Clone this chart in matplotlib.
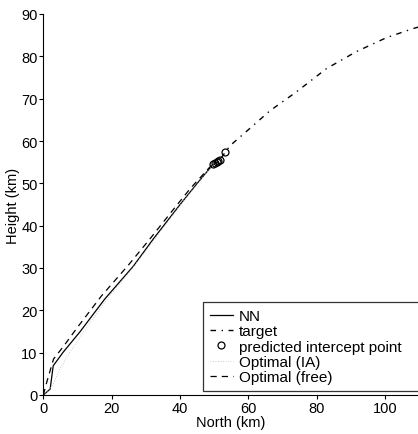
import matplotlib
matplotlib.use("Agg")
import matplotlib.pyplot as plt

plt.rcParams['font.family'] = ['Liberation Sans', 'DejaVu Sans']

# NN trajectory
nn_north = [0, 2.0, 2.9, 5.8, 10.7, 18.0, 26.3, 32.2, 40.0, 45.0, 50.2]
nn_height = [0, 1.4, 6.9, 10.1, 14.9, 22.7, 30.4, 36.9, 45.0, 50.0, 55.0]

# target trajectory
tg_north = [52.0, 54.6, 60.3, 66.2, 74.0, 82.8, 91.5, 100.3, 107.9, 110.0]
tg_height = [56.0, 58.9, 62.9, 67.1, 71.6, 77.1, 81.1, 84.4, 86.5, 87.0]

# predicted intercept points
pip_north = [49.7, 50.2, 50.7, 51.2, 51.7, 53.1]
pip_height = [54.6, 54.9, 55.0, 55.3, 55.6, 57.4]

# Optimal (IA)
ia_north = [0, 2.5, 4.9, 7.5, 11.5, 18.5, 26.5, 33.0, 40.5, 50.0]
ia_height = [0, 2.0, 6.2, 9.8, 14.6, 22.5, 30.4, 37.2, 45.3, 54.8]

# Optimal (free)
fr_north = [0, 1.0, 3.0, 6.0, 10.0, 17.0, 25.0, 31.5, 38.0, 43.0, 50.0]
fr_height = [0, 3.0, 8.5, 11.6, 16.0, 23.4, 30.8, 37.2, 43.8, 48.8, 55.0]

fig = plt.figure(figsize=(4.18, 4.35), dpi=100)
ax = fig.add_axes([43.3/418, 39/435, (418-43.3)/418, 381/435])

ax.plot(nn_north, nn_height, color='black', lw=0.9, ls='-', label='NN')
ax.plot(tg_north, tg_height, color='black', lw=1.0, ls=(0, (4, 4, 1, 4)), label='target')
ax.plot(pip_north, pip_height, ls='none', marker='o', ms=5, mfc='none', mec='black', mew=0.9,
        label='predicted intercept point')
ax.plot(ia_north, ia_height, color='#bbbbbb', lw=0.6, ls=(0, (1, 2)), label='Optimal (IA)')
ax.plot(fr_north, fr_height, color='black', lw=0.9, ls=(0, (5, 4)), label='Optimal (free)')

ax.set_xlim(0, (418-43.3)/3.42)
ax.set_ylim(0, 90)
ax.set_xticks([0, 20, 40, 60, 80, 100])
ax.set_yticks([0, 10, 20, 30, 40, 50, 60, 70, 80, 90])
ax.spines['top'].set_visible(False)
ax.spines['right'].set_visible(False)
ax.tick_params(direction='out', length=3, width=0.8, labelsize=10.5, pad=1)
ax.set_xlabel('North (km)', fontsize=10.5, labelpad=0)
ax.set_ylabel('Height (km)', fontsize=10.5, labelpad=1)

leg = ax.legend(loc='lower left', bbox_to_anchor=(203/418, (435-392)/435, 225/418, 100/435),
                mode='expand',
                bbox_transform=fig.transFigure, fontsize=11, frameon=True,
                fancybox=False, edgecolor='black', handlelength=1.5, handletextpad=0.4,
                labelspacing=0.08, borderpad=0.45, borderaxespad=0)
leg.get_frame().set_linewidth(0.9)

fig.savefig('out.png', dpi=100)
